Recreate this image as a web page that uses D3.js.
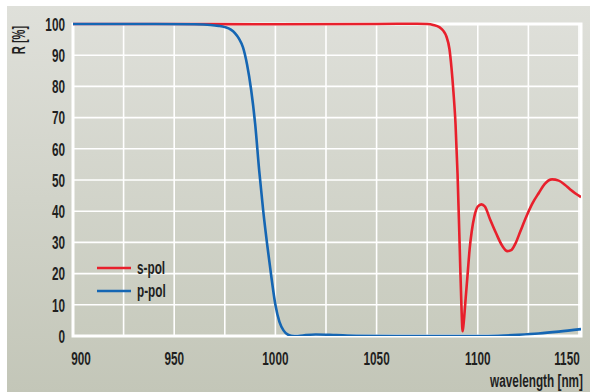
<!DOCTYPE html>
<html>
<head>
<meta charset="utf-8">
<script src="https://cdn.jsdelivr.net/npm/d3@7"></script>
<style>
  body { margin: 0; background: #fff; }
  svg { display: block; }
  text { font-family: "Liberation Sans", Arial, sans-serif; font-weight: bold; fill: #1f1f1f; }
</style>
</head>
<body>
<svg id="chart"></svg>
<script>
// p-pol reflectance [nm, %]
const pWave = [900, 940, 960, 968, 972, 975, 978, 980, 982, 984, 986, 988, 990, 992, 994, 996, 998, 1000, 1002, 1004, 1006, 1008, 1011, 1015, 1020, 1030, 1040, 1060, 1080, 1100, 1110, 1120, 1130, 1140, 1151];
const pR    = [100, 100, 99.9, 99.7, 99.4, 99, 98.2, 97.1, 95.3, 92.5, 87, 79, 68, 53, 40, 29, 19, 10, 4.5, 1.8, 0.5, 0.1, 0, 0.3, 0.5, 0.3, 0.1, 0, 0, 0, 0.1, 0.4, 0.8, 1.4, 2.2];

// s-pol reflectance [nm, %]
const sWave = [900, 950, 1000, 1050, 1070, 1075, 1078, 1081, 1083, 1084.5, 1086, 1087, 1088, 1089, 1090, 1091, 1092, 1092.5, 1093, 1094, 1095, 1096, 1097, 1098.3, 1100, 1101.8, 1103.5, 1106, 1109, 1112, 1114.6, 1116.5, 1118.5, 1121, 1124, 1127, 1130.3, 1133, 1136.7, 1140, 1143, 1146, 1151];
const sR    = [100, 100, 99.9, 100, 100.1, 100, 99.7, 99, 97.8, 96, 92, 86, 78, 68, 52, 30, 8, 1.5, 4, 12, 20, 28, 33.5, 38.3, 41.5, 42.2, 41.5, 37.5, 33, 29, 27.2, 27.5, 29.5, 33.5, 38.3, 42.5, 46, 48.7, 50.2, 49.8, 48.5, 46.8, 44.5];

const xTicks = [900, 950, 1000, 1050, 1100, 1150];
const yTicks = [0, 10, 20, 30, 40, 50, 60, 70, 80, 90, 100];
const xGrid = d3.range(900, 1151, 25);

const seriesNames = ["s-pol", "p-pol"];
const seriesColors = ["#e8202c", "#1566b3"];

const W = 590, H = 392;
const plot = { left: 73, right: 581, top: 24, bottom: 336 };
const squeeze = 0.62; // condensed look of the original typeface

const svg = d3.select("#chart").attr("width", W).attr("height", H);
const defs = svg.append("defs");

const outerGrad = defs.append("linearGradient").attr("id", "outerBg")
  .attr("x1", 0).attr("y1", 0).attr("x2", 0).attr("y2", 1);
outerGrad.append("stop").attr("offset", "0%").attr("stop-color", "#dfe0da");
outerGrad.append("stop").attr("offset", "100%").attr("stop-color", "#c3c6b8");

const innerGrad = defs.append("linearGradient").attr("id", "innerBg")
  .attr("x1", 0).attr("y1", 0).attr("x2", 0).attr("y2", 1);
innerGrad.append("stop").attr("offset", "0%").attr("stop-color", "#dedfd9");
innerGrad.append("stop").attr("offset", "100%").attr("stop-color", "#c8cbbe");

// outer panel
svg.append("rect")
  .attr("x", 7).attr("y", 6).attr("width", W - 7).attr("height", H - 6)
  .attr("fill", "url(#outerBg)");

const x = d3.scaleLinear().domain([900, 1151]).range([plot.left, plot.right]);
const y = d3.scaleLinear().domain([0, 100]).range([plot.bottom, plot.top]);

// plot area with white frame
svg.append("rect")
  .attr("x", plot.left).attr("y", plot.top)
  .attr("width", plot.right - plot.left).attr("height", plot.bottom - plot.top)
  .attr("fill", "url(#innerBg)")
  .attr("stroke", "#fff").attr("stroke-width", 3);

const grid = svg.append("g").attr("stroke", "#fff").attr("stroke-width", 1.6);
grid.selectAll("line.v")
  .data(xGrid.slice(1))
  .join("line").attr("class", "v")
  .attr("x1", d => x(d)).attr("x2", d => x(d))
  .attr("y1", plot.top).attr("y2", plot.bottom);
grid.selectAll("line.h")
  .data(yTicks.slice(1, -1))
  .join("line").attr("class", "h")
  .attr("x1", plot.left).attr("x2", plot.right)
  .attr("y1", d => y(d)).attr("y2", d => y(d));

// narrow text: place with translate, then squeeze horizontally
function placeText(sel, px, py) {
  return sel.attr("transform", (d, i) =>
    `translate(${typeof px === "function" ? px(d, i) : px},${typeof py === "function" ? py(d, i) : py})` +
    ` scale(${squeeze},1)`);
}

// y tick labels
placeText(svg.append("g").selectAll("text")
  .data(yTicks)
  .join("text")
  .attr("dy", "0.36em")
  .attr("text-anchor", "end")
  .style("font-size", "19px")
  .text(d => d), 65, d => y(d));

// x tick labels (end labels nudged inside like the original)
placeText(svg.append("g").selectAll("text")
  .data(xTicks)
  .join("text")
  .attr("text-anchor", "middle")
  .style("font-size", "19px")
  .text(d => d),
  (d, i) => x(d) + (i === 0 ? 8 : i === xTicks.length - 1 ? -12 : 0), 365);

svg.append("text")
  .attr("transform", `translate(25,40) rotate(-90) scale(${squeeze},1)`)
  .attr("text-anchor", "middle")
  .style("font-size", "18px")
  .text("R [%]");

svg.append("text")
  .attr("transform", `translate(583,387) scale(${squeeze},1)`)
  .attr("text-anchor", "end")
  .style("font-size", "19px")
  .text("wavelength [nm]");

const line = d3.line()
  .x(d => x(d[0]))
  .y(d => y(d[1]))
  .curve(d3.curveMonotoneX);

const clip = defs.append("clipPath").attr("id", "plotClip");
clip.append("rect")
  .attr("x", plot.left).attr("y", plot.top - 3)
  .attr("width", plot.right - plot.left).attr("height", plot.bottom - plot.top + 3);

const curves = svg.append("g").attr("clip-path", "url(#plotClip)");
curves.append("path")
  .datum(d3.zip(sWave, sR))
  .attr("fill", "none")
  .attr("stroke", seriesColors[0])
  .attr("stroke-width", 2.6)
  .attr("d", line);
curves.append("path")
  .datum(d3.zip(pWave, pR))
  .attr("fill", "none")
  .attr("stroke", seriesColors[1])
  .attr("stroke-width", 2.6)
  .attr("d", line);

// legend
const legend = svg.append("g");
seriesNames.forEach((name, i) => {
  const ly = 268 + i * 23;
  legend.append("line")
    .attr("x1", 97).attr("x2", 131)
    .attr("y1", ly).attr("y2", ly)
    .attr("stroke", seriesColors[i]).attr("stroke-width", 2.6);
  legend.append("text")
    .attr("transform", `translate(137,${ly}) scale(${squeeze},1)`)
    .attr("dy", "0.34em")
    .style("font-size", "19px")
    .text(name);
});
</script>
</body>
</html>
